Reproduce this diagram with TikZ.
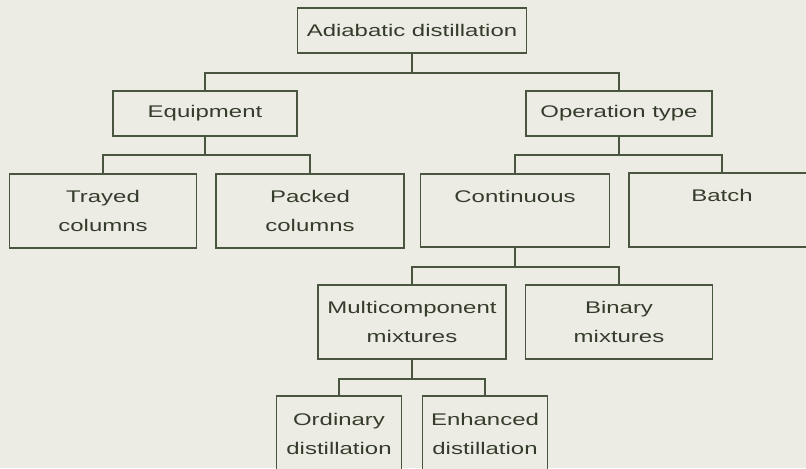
\documentclass[tikz,border=0pt]{standalone}
\usepackage{fontspec}
\setmainfont{Liberation Sans}[FakeStretch=1.42]
\usepackage{xcolor}
\definecolor{paper}{HTML}{ECECE4}
\definecolor{ink}{HTML}{4A5540}
\definecolor{letter}{HTML}{363C2C}

\begin{document}
\begin{tikzpicture}[x=0.025cm, y=-0.025cm,
    box/.style={draw=ink, line width=1pt, fill=paper, text=letter, align=center,
        inner sep=0pt, font=\fontsize{12}{20.5}\selectfont},
    size/.style 2 args={minimum width=#1*0.025cm, minimum height=#2*0.025cm},
    link/.style={draw=ink, line width=1.4pt}]
    \fill[paper] (0,0) rectangle (806,468);
    \clip (0,0) rectangle (806,468);

    \node[box, size={229}{45}] (top) at (412,30.5) {Adiabatic distillation};
    \node[box, size={184}{45}] (equip) at (205,113.5) {Equipment};
    \node[box, size={186}{45}] (optype) at (619,113.5) {Operation type};
    \node[box, size={187}{74}] (trayed) at (103,211) {Trayed\\columns};
    \node[box, size={188}{74}] (packed) at (310,211) {Packed\\columns};
    \node[box, size={189}{73}] (cont) at (515,210.5) {Continuous\\\mbox{}};
    \node[box, size={186}{74}] (batch) at (722,210) {Batch\\\mbox{}};
    \node[box, size={188}{74}] (multi) at (412,322) {Multicomponent\\mixtures};
    \node[box, size={187}{74}] (binary) at (619,322) {Binary\\mixtures};
    \node[box, size={125}{76}] (ordinary) at (339,434) {Ordinary\\distillation};
    \node[box, size={125}{76}] (enhanced) at (485,434) {Enhanced\\distillation};

    % tree links
    \draw[link] (top.south) -- ++(0,19) coordinate (j1);
    \draw[link] (equip.north) |- (j1) -| (optype.north);
    \draw[link] (equip.south) -- ++(0,18) coordinate (j2);
    \draw[link] (trayed.north) |- (j2) -| (packed.north);
    \draw[link] (optype.south) -- ++(0,18) coordinate (j3);
    \draw[link] (cont.north) |- (j3) -| (batch.north);
    \draw[link] (cont.south) -- ++(0,19) coordinate (j4);
    \draw[link] (multi.north) |- (j4) -| (binary.north);
    \draw[link] (multi.south) -- ++(0,19) coordinate (j5);
    \draw[link] (ordinary.north) |- (j5) -| (enhanced.north);
\end{tikzpicture}
\end{document}
